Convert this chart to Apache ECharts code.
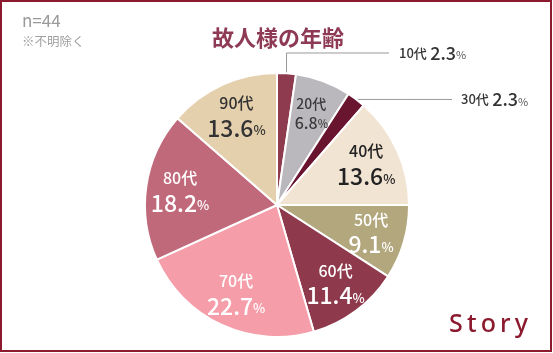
<!DOCTYPE html>
<html><head><meta charset="utf-8">
<script src="https://cdn.jsdelivr.net/npm/echarts@6/dist/echarts.min.js"></script>
<style>html,body{margin:0;padding:0;background:#fff}#c{width:553px;height:353px}</style>
</head><body><div id="c"></div>
<script>
const categories = ['10代','20代','30代','40代','50代','60代','70代','80代','90代'];
const percents = [2.3, 6.8, 2.3, 13.6, 9.1, 11.4, 22.7, 18.2, 13.6];
const colors = ['#8e3b50','#bab8bd','#6a1530','#f2e4d3','#b3a77d','#8e3a4c','#f59da9','#c0697a','#e4d0ac'];
const labelColors = ['#333','#3a3a3a','#333','#222','#fff','#fff','#fff','#fff','#333'];
const outsideIdx = [0, 2];
const smallIdx = [1];
const FONT = '"Noto Sans CJK JP", "Noto Sans", sans-serif';

const chart = echarts.init(document.getElementById('c'));

const baseData = categories.map((c, i) => ({
  name: c, value: percents[i],
  itemStyle: { color: colors[i] },
  label: { show: outsideIdx.includes(i) },
  labelLine: { show: outsideIdx.includes(i) }
}));

const overlayData = categories.map((c, i) => {
  const small = smallIdx.includes(i);
  const col = labelColors[i];
  return {
    name: c, value: percents[i],
    label: {
      show: !outsideIdx.includes(i),
      formatter: '{a|' + c + '}\n{b|' + percents[i].toFixed(1) + '}{c|%}',
      rich: {
        a: { fontSize: small ? 14 : 16, fontWeight: 500, color: col, fontFamily: FONT, lineHeight: small ? 20 : 24, align: 'center' },
        b: { fontSize: small ? 16 : 23, fontWeight: 500, color: col, fontFamily: FONT, lineHeight: small ? 20 : 26 },
        c: { fontSize: small ? 11 : 13, fontWeight: 500, color: col, fontFamily: FONT, lineHeight: small ? 20 : 26, padding: [small ? 2 : 5, 0, 0, 0] }
      }
    }
  };
});

const outsidePos = { 0: { x: 399, y: 53, lineEnd: 389 }, 2: { x: 461, y: 101, lineEnd: 452 } };

chart.setOption({
  animation: false,
  graphic: [
    { type: 'rect', shape: { x: 1, y: 1, width: 550, height: 350 }, style: { fill: 'none', stroke: '#8b1a2e', lineWidth: 2 }, z: 100 },
    { type: 'text', left: 22, top: 12, style: { text: 'n=44', font: '400 17px ' + FONT, fill: '#9a9a9a' } },
    { type: 'text', left: 22, top: 35, style: { text: '※不明除く', font: '400 12.5px ' + FONT, fill: '#a0a0a0' } },
    { type: 'text', left: 449, top: 312, style: { text: 'S\u2009t\u2009o\u2009r\u2009y', font: '500 25px "Noto Sans", sans-serif', fill: '#8b1a2e' } }
  ],
  title: {
    text: '故人様の年齢', left: 207, top: 22,
    textStyle: { fontFamily: FONT, fontSize: 22, fontWeight: 'bold', color: '#8e3a55' }
  },
  series: [
    {
      type: 'pie', center: [277, 205], radius: [0, 132], startAngle: 90, clockwise: true,
      itemStyle: { borderColor: '#fff', borderWidth: 2 },
      label: {
        position: 'outside',
        formatter: p => '{a|' + p.name + '} {b|' + p.value.toFixed(1) + '}{c|%}',
        rich: {
          a: { fontSize: 13, fontWeight: 500, color: '#333', fontFamily: FONT },
          b: { fontSize: 18, fontWeight: 500, color: '#333', fontFamily: FONT },
          c: { fontSize: 11, color: '#555', fontFamily: FONT, padding: [4, 0, 0, 0] }
        }
      },
      labelLine: { lineStyle: { color: '#999', width: 1 } },
      labelLayout: function (params) {
        const o = outsidePos[params.dataIndex];
        if (!o || !params.labelLinePoints) return {};
        const p0 = params.labelLinePoints[0];
        let pts;
        if (params.dataIndex === 0) {
          pts = [p0, [p0[0], o.y], [o.lineEnd, o.y]];
        } else {
          pts = [p0, [(p0[0] + o.lineEnd) / 2, p0[1]], [o.lineEnd, p0[1]]];
        }
        return { x: o.x, y: params.dataIndex === 0 ? o.y : p0[1], align: 'left', verticalAlign: 'middle', labelLinePoints: pts };
      },
      data: baseData
    },
    {
      type: 'pie', center: [277, 205], radius: [58, 132], startAngle: 90, clockwise: true, silent: true,
      itemStyle: { color: 'rgba(0,0,0,0)', borderWidth: 0 },
      label: { position: 'inside' },
      labelLine: { show: false },
      emphasis: { disabled: true },
      data: overlayData
    }
  ]
});
</script>
</body></html>
